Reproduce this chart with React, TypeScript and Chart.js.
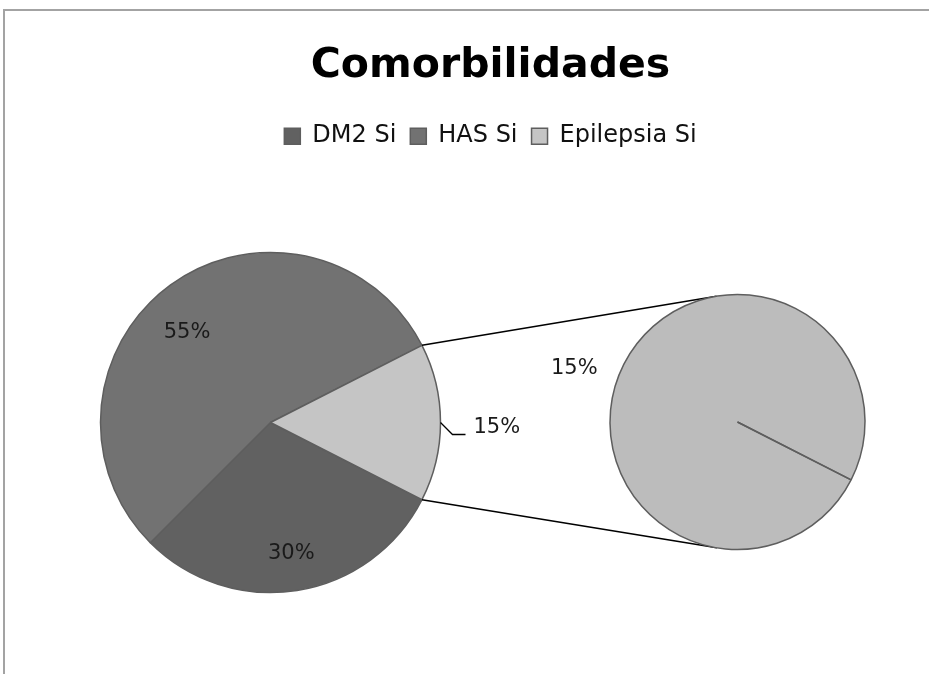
import React, { useEffect, useRef } from 'react';
import { Chart, registerables } from 'chart.js';

Chart.register(...registerables);

// ---- data ----
const titleText = 'Comorbilidades';
const categories = ['DM2 Si', 'HAS Si', 'Epilepsia Si'];
const values = [30, 55, 15];
const sliceColors = ['#616161', '#727272', '#c5c5c5'];
const secondaryCategories = ['Epilepsia Si'];
const secondaryValues = [15];
const secondaryColors = ['#bcbcbc'];

const W = 929;
const H = 674;
const FONT = '"DejaVu Sans", sans-serif';
const total = values.reduce((a, b) => a + b, 0);
const pct = (v: number) => Math.round((v / total) * 100) + '%';

// label placement tweaks for inside labels (radius factor, angle shift in degrees)
const insideLabelPlacement = [
  { r: 0.78, da: 0 },
  { r: 0.72, da: -7 },
];

export default function App() {
  const mainRef = useRef<HTMLCanvasElement | null>(null);
  const secRef = useRef<HTMLCanvasElement | null>(null);

  useEffect(() => {
    if (!mainRef.current || !secRef.current) return;

    const secLabelPlugin = {
      id: 'secLabels',
      afterDatasetsDraw(chart: any) {
        const ctx = chart.ctx;
        const arc = chart.getDatasetMeta(0).data[0];
        if (!arc) return;
        const { x, y, outerRadius, startAngle } = arc.getProps(['x', 'y', 'outerRadius', 'startAngle'], true);
        ctx.save();
        ctx.strokeStyle = '#5e5e5e';
        ctx.lineWidth = 1.5;
        ctx.beginPath();
        ctx.moveTo(x, y);
        ctx.lineTo(x + outerRadius * Math.cos(startAngle), y + outerRadius * Math.sin(startAngle));
        ctx.stroke();
        ctx.font = '21px ' + FONT;
        ctx.fillStyle = '#1a1a1a';
        ctx.textAlign = 'center';
        ctx.textBaseline = 'middle';
        ctx.fillText(pct(secondaryValues[0]), x - outerRadius * 1.28, y - outerRadius * 0.42);
        ctx.restore();
      },
    };

    const secChart = new Chart(secRef.current, {
      type: 'pie',
      data: {
        labels: secondaryCategories,
        datasets: [
          {
            data: secondaryValues,
            backgroundColor: secondaryColors,
            borderColor: '#5e5e5e',
            borderWidth: 1.5,
            hoverOffset: 0,
            radius: 127.5,
            rotation: 117,
          } as any,
        ],
      },
      options: {
        responsive: false,
        animation: false,
        events: [],
        layout: { padding: { left: 610, right: 64, top: 294.5, bottom: 124.5 } },
        plugins: {
          legend: { display: false },
          title: { display: false },
          tooltip: { enabled: false },
        },
      },
      plugins: [secLabelPlugin],
    });

    const areaPlugin = {
      id: 'primaryArea',
      afterLayout(chart: any) {
        const ca = chart.chartArea;
        ca.left = 100;
        ca.right = 441;
        ca.top = 252;
        ca.bottom = 593;
        ca.width = ca.right - ca.left;
        ca.height = ca.bottom - ca.top;
      },
    };

    const labelPlugin = {
      id: 'primaryLabels',
      afterDatasetsDraw(chart: any) {
        const ctx = chart.ctx;
        const arcs = chart.getDatasetMeta(0).data;
        ctx.save();
        ctx.font = '21px ' + FONT;
        ctx.fillStyle = '#1a1a1a';
        ctx.textBaseline = 'middle';
        arcs.forEach((arc: any, i: number) => {
          const { x, y, outerRadius, startAngle, endAngle } = arc.getProps(
            ['x', 'y', 'outerRadius', 'startAngle', 'endAngle'],
            true
          );
          const mid = (startAngle + endAngle) / 2;
          const text = pct(values[i]);
          if (i === 2) {
            const ax = x + outerRadius * Math.cos(mid);
            const ay = y + outerRadius * Math.sin(mid);
            ctx.strokeStyle = '#000';
            ctx.lineWidth = 1.3;
            ctx.beginPath();
            ctx.moveTo(ax, ay);
            ctx.lineTo(ax + 12, ay + 12);
            ctx.lineTo(ax + 25, ay + 12);
            ctx.stroke();
            ctx.textAlign = 'left';
            ctx.fillText(text, ax + 33, ay + 5);
          } else {
            const pl = insideLabelPlacement[i];
            const ang = mid + (pl.da * Math.PI) / 180;
            const d = outerRadius * pl.r;
            ctx.textAlign = 'center';
            ctx.fillText(text, x + d * Math.cos(ang), y + d * Math.sin(ang));
          }
        });

        // connector lines to secondary pie (tangents)
        const sArc = secChart.getDatasetMeta(0).data[0] as any;
        const ep = arcs[2];
        if (sArc && ep) {
          const s = sArc.getProps(['x', 'y', 'outerRadius'], true);
          const p = ep.getProps(['x', 'y', 'outerRadius', 'startAngle', 'endAngle'], true);
          const ends = [
            { a: p.startAngle, sign: 1 },
            { a: p.endAngle, sign: -1 },
          ];
          ctx.strokeStyle = '#000';
          ctx.lineWidth = 1.6;
          ends.forEach(({ a, sign }) => {
            const px = p.x + p.outerRadius * Math.cos(a);
            const py = p.y + p.outerRadius * Math.sin(a);
            const dx = px - s.x;
            const dy = py - s.y;
            const d = Math.hypot(dx, dy);
            const base = Math.atan2(dy, dx);
            const alpha = Math.acos(s.outerRadius / d);
            const t = base + sign * alpha;
            ctx.beginPath();
            ctx.moveTo(px, py);
            ctx.lineTo(s.x + s.outerRadius * Math.cos(t), s.y + s.outerRadius * Math.sin(t));
            ctx.stroke();
          });
        }
        ctx.restore();
      },
    };

    const mainChart = new Chart(mainRef.current, {
      type: 'pie',
      data: {
        labels: categories,
        datasets: [
          {
            data: values,
            backgroundColor: sliceColors,
            borderColor: '#5e5e5e',
            borderWidth: 1.5,
            hoverOffset: 0,
            radius: 170,
            rotation: 117,
          } as any,
        ],
      },
      options: {
        responsive: false,
        animation: false,
        events: [],
        layout: { padding: { left: 52, right: 0, top: 0, bottom: 0 } },
        plugins: {
          title: {
            display: true,
            text: titleText,
            color: '#000',
            font: { family: FONT, size: 41, weight: 'bold' },
            padding: { top: 42, bottom: 19 },
          },
          legend: {
            display: true,
            position: 'top',
            labels: {
              color: '#111',
              font: { family: FONT, size: 24 },
              boxWidth: 16,
              boxHeight: 16,
              padding: 14,
            },
          },
          tooltip: { enabled: false },
        },
      },
      plugins: [areaPlugin, labelPlugin],
    });

    return () => {
      mainChart.destroy();
      secChart.destroy();
    };
  }, []);

  return (
    <div
      style={{
        position: 'absolute',
        left: 0,
        top: 0,
        width: W,
        height: H,
        overflow: 'hidden',
        background: '#fff',
      }}
    >
      <div
        style={{
          position: 'absolute',
          left: 3,
          top: 9,
          width: 960,
          height: 700,
          borderTop: '2px solid #a3a3a3',
          borderLeft: '2px solid #a3a3a3',
        }}
      />
      <canvas
        ref={mainRef}
        width={W}
        height={H}
        style={{ position: 'absolute', left: 0, top: 0, width: W, height: H }}
      />
      <canvas
        ref={secRef}
        width={W}
        height={H}
        style={{ position: 'absolute', left: 0, top: 0, width: W, height: H }}
      />
    </div>
  );
}
